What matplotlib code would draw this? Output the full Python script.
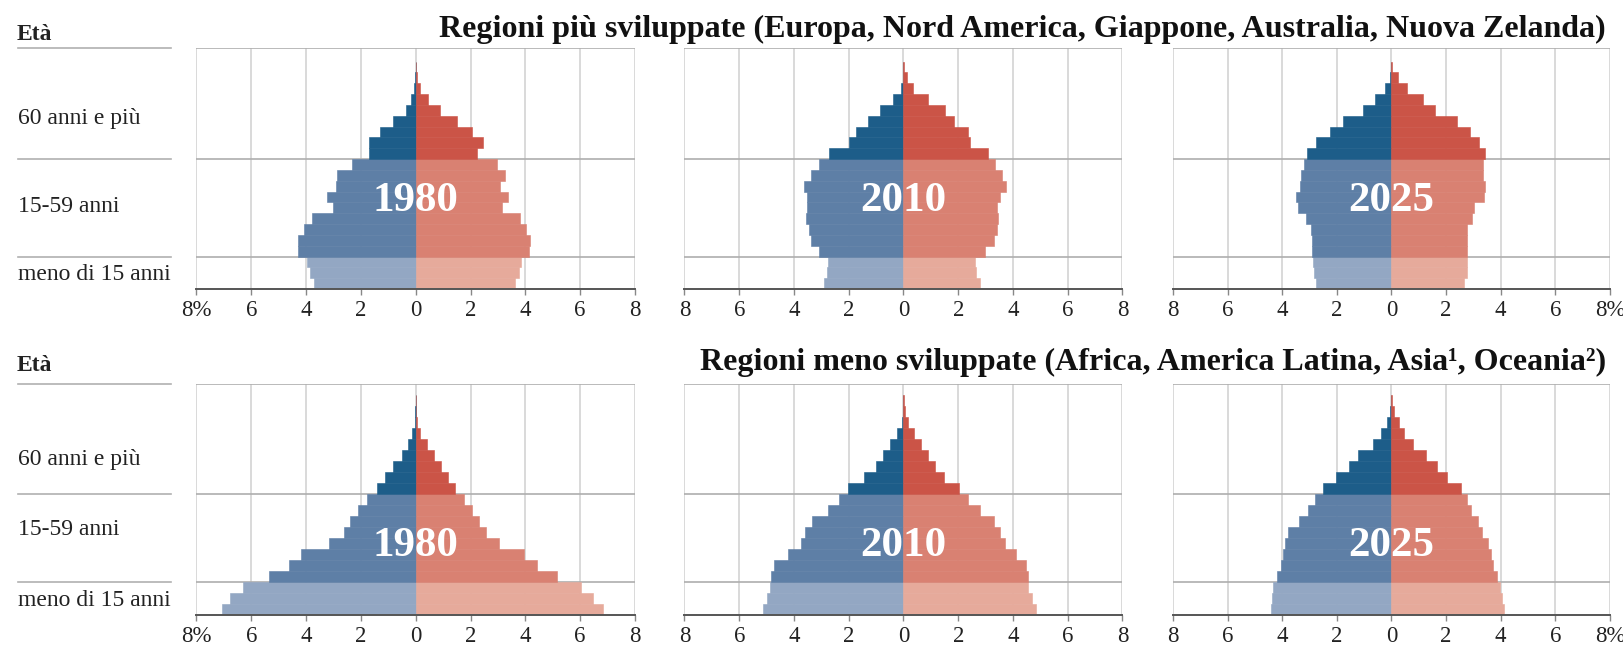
import matplotlib
matplotlib.use("Agg")
import matplotlib.pyplot as plt

# ---------------- data (percent of population, 5-year bins, youngest first) ----------------
years = ["1980", "2010", "2025"]

dev_1980_m = [3.70, 3.85, 3.98, 4.30, 4.30, 4.06, 3.80, 3.03, 3.25, 2.90, 2.88, 2.34,
              1.70, 1.70, 1.30, 0.82, 0.36, 0.18, 0.06, 0.015, 0.005]
dev_1980_f = [3.61, 3.76, 3.84, 4.15, 4.18, 4.04, 3.79, 3.15, 3.36, 3.07, 3.24, 2.97,
              2.22, 2.45, 2.06, 1.49, 0.88, 0.45, 0.15, 0.04, 0.015]
dev_2010_m = [2.92, 2.80, 2.74, 3.08, 3.37, 3.47, 3.56, 3.53, 3.53, 3.62, 3.39, 3.08,
              2.72, 2.00, 1.73, 1.28, 0.85, 0.40, 0.10, 0.02, 0.005]
dev_2010_f = [2.78, 2.65, 2.60, 2.98, 3.29, 3.43, 3.47, 3.43, 3.53, 3.75, 3.60, 3.35,
              3.10, 2.44, 2.37, 1.85, 1.52, 0.91, 0.34, 0.12, 0.02]
dev_2025_m = [2.78, 2.84, 2.88, 2.91, 2.91, 2.93, 3.13, 3.42, 3.48, 3.36, 3.30, 3.21,
              3.09, 2.78, 2.26, 1.78, 1.04, 0.59, 0.22, 0.06, 0.01]
dev_2025_f = [2.65, 2.75, 2.77, 2.77, 2.75, 2.75, 2.95, 3.02, 3.37, 3.44, 3.36, 3.36,
              3.44, 3.20, 2.87, 2.38, 1.59, 1.16, 0.55, 0.24, 0.03]

ldc_1980_m = [7.06, 6.78, 6.30, 5.35, 4.62, 4.17, 3.16, 2.63, 2.40, 2.10, 1.78,
              1.41, 1.12, 0.82, 0.50, 0.29, 0.15, 0.03, 0.01, 0.0]
ldc_1980_f = [6.82, 6.46, 6.02, 5.15, 4.42, 3.94, 3.03, 2.55, 2.31, 2.06, 1.77,
              1.43, 1.18, 0.91, 0.66, 0.41, 0.17, 0.04, 0.015, 0.0]
ldc_2010_m = [5.15, 5.00, 4.88, 4.85, 4.73, 4.21, 3.74, 3.58, 3.33, 2.77, 2.34,
              2.01, 1.44, 1.00, 0.76, 0.49, 0.24, 0.07, 0.02, 0.0]
ldc_2010_f = [4.85, 4.70, 4.54, 4.54, 4.49, 4.12, 3.70, 3.54, 3.29, 2.78, 2.34,
              2.01, 1.49, 1.16, 0.91, 0.63, 0.37, 0.16, 0.04, 0.01]
ldc_2025_m = [4.41, 4.38, 4.33, 4.21, 4.05, 3.96, 3.89, 3.80, 3.38, 3.04, 2.79,
              2.52, 2.04, 1.57, 1.21, 0.67, 0.37, 0.17, 0.06, 0.01]
ldc_2025_f = [4.12, 4.06, 3.98, 3.88, 3.72, 3.63, 3.55, 3.33, 3.15, 2.90, 2.78,
              2.54, 2.05, 1.68, 1.26, 0.79, 0.44, 0.26, 0.10, 0.03]

group_labels = ["meno di 15 anni", "15-59 anni", "60 anni e più"]
row_titles = ["Regioni più sviluppate (Europa, Nord America, Giappone, Australia, Nuova Zelanda)",
              "Regioni meno sviluppate (Africa, America Latina, Asia¹, Oceania²)"]
tick_values = [-8, -6, -4, -2, 0, 2, 4, 6, 8]

rows = [
    dict(data=[(dev_1980_m, dev_1980_f), (dev_2010_m, dev_2010_f), (dev_2025_m, dev_2025_f)],
         bounds=(3, 12), ytop_px=48, ybot_px=289, ymax=22.25,
         label_y=[1.3, 7.6, 15.7], year_y=0.365, title_y=29, eta_y=35),
    dict(data=[(ldc_1980_m, ldc_1980_f), (ldc_2010_m, ldc_2010_f), (ldc_2025_m, ldc_2025_f)],
         bounds=(3, 11), ytop_px=384, ybot_px=615, ymax=21.0,
         label_y=[1.3, 7.8, 14.1], year_y=0.30, title_y=362, eta_y=366),
]

# ---------------- style ----------------
M_COL = ["#93a7c3", "#5e7fa6", "#1d5d89"]   # light, medium, dark (men)
F_COL = ["#e6aa9b", "#d98172", "#cb5447"]   # light, medium, dark (women)
SERIF = "Liberation Serif"
W, H = 1624, 649
panel_x = [(196.5, 635), (684.5, 1122.5), (1173, 1610)]
label_x = (18, 171)

fig = plt.figure(figsize=(W / 100, H / 100), dpi=100)


def fr(x0, x1, y0, y1):
    return [x0 / W, 1 - y1 / H, (x1 - x0) / W, (y1 - y0) / H]


for r, row in enumerate(rows):
    b1, b2 = row["bounds"]
    ymax = row["ymax"]
    # label column
    axl = fig.add_axes(fr(label_x[0], label_x[1], row["ytop_px"], row["ybot_px"]))
    axl.set_xlim(0, 1)
    axl.set_ylim(0, ymax)
    axl.axis("off")
    for yy in (ymax, b1, b2):
        axl.axhline(yy, color="#b0b0b0", lw=1.2, clip_on=False)
    for txt, ly in zip(group_labels, row["label_y"]):
        axl.text(0, ly, txt, ha="left", va="center", fontsize=17, family=SERIF, color="#222")
    fig.text(17 / W, 1 - row["eta_y"] / H, "Età", ha="left", va="center",
             fontsize=17, family=SERIF, weight="bold", color="#222")
    fig.text(1606 / W, 1 - row["title_y"] / H, row_titles[r], ha="right", va="center",
             fontsize=23, family=SERIF, weight="bold", color="#111")

    for p, (m, f) in enumerate(row["data"]):
        ax = fig.add_axes(fr(panel_x[p][0], panel_x[p][1], row["ytop_px"], row["ybot_px"]))
        ax.set_xlim(-8, 8)
        ax.set_ylim(0, ymax)
        n = len(m)
        ys = [i + 0.5 for i in range(n)]
        cm = [M_COL[0] if i < b1 else (M_COL[1] if i < b2 else M_COL[2]) for i in range(n)]
        cf = [F_COL[0] if i < b1 else (F_COL[1] if i < b2 else F_COL[2]) for i in range(n)]
        ax.barh(ys, [-v for v in m], height=1.0, color=cm, edgecolor=cm, lw=0.4, zorder=3)
        ax.barh(ys, f, height=1.0, color=cf, edgecolor=cf, lw=0.4, zorder=3)
        for xv in tick_values:
            ax.axvline(xv, color="#d0d0d0", lw=1.1, zorder=1)
        for yy in (ymax, b1, b2):
            ax.axhline(yy, color="#aeaeae", lw=1.2, zorder=1.5)
        for s in ("left", "right", "top"):
            ax.spines[s].set_visible(False)
        ax.spines["bottom"].set_color("#555555")
        ax.spines["bottom"].set_linewidth(1.4)
        ax.spines["bottom"].set_zorder(4)
        ax.set_yticks([])
        labels = [str(abs(v)) for v in tick_values]
        if p == 0:
            labels[0] = "8%"
        if p == 2:
            labels[-1] = "8%"
        ax.set_xticks(tick_values)
        ax.set_xticklabels(labels, family=SERIF, fontsize=16.5, color="#222")
        ax.tick_params(axis="x", length=4, width=1, color="#888888", pad=4)
        ax.text(0, row["year_y"], years[p], transform=ax.get_xaxis_transform(),
                ha="center", va="center", fontsize=31, family=SERIF, weight="bold",
                color="white", zorder=5)

fig.savefig("out.png", dpi=100, facecolor="white")
